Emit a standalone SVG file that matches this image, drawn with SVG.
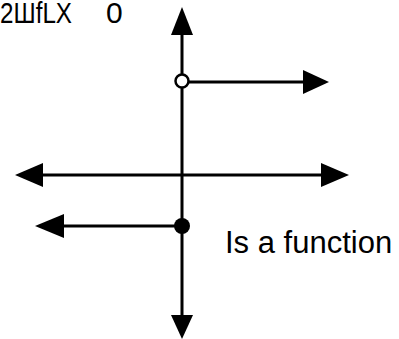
<svg xmlns="http://www.w3.org/2000/svg" width="399" height="339" viewBox="0 0 399 339">
<style>
.ln{stroke:#000;stroke-width:3;fill:none}
.ah{fill:#000;stroke:none}
.t{font-family:"Liberation Sans",Arial,sans-serif;fill:#000}
</style>
<rect width="399" height="339" fill="#fff"/>
<g id="connectors">
<line class="ln" x1="182" y1="30" x2="182" y2="318"/>
<path class="ah" d="M182,7 L193,35 L171,35 Z"/>
<path class="ah" d="M182,339 L193,315 L171,315 Z"/>
<line class="ln" x1="40" y1="175" x2="325" y2="175"/>
<path class="ah" d="M15,175 L43,163 L43,187 Z"/>
<path class="ah" d="M349,175 L321,163 L321,187 Z"/>
<line class="ln" x1="182" y1="82" x2="306" y2="82"/>
<path class="ah" d="M329,82 L303,70 L303,94 Z"/>
<line class="ln" x1="60" y1="226" x2="182" y2="226"/>
<path class="ah" d="M35,226 L64,214 L64,238 Z"/>
</g>
<g id="open-point">
<circle cx="182" cy="81" r="6.5" fill="#fff" stroke="#000" stroke-width="2.5"/>
</g>
<g id="closed-point">
<circle cx="182" cy="226" r="8" fill="#000"/>
</g>
<g id="labels">
<text class="t" x="0" y="23" font-size="30" textLength="72" lengthAdjust="spacingAndGlyphs">2ШfLX</text>
<text class="t" x="106" y="23" font-size="30">0</text>
<text class="t" x="225" y="253" font-size="31">Is a function</text>
</g>
</svg>
